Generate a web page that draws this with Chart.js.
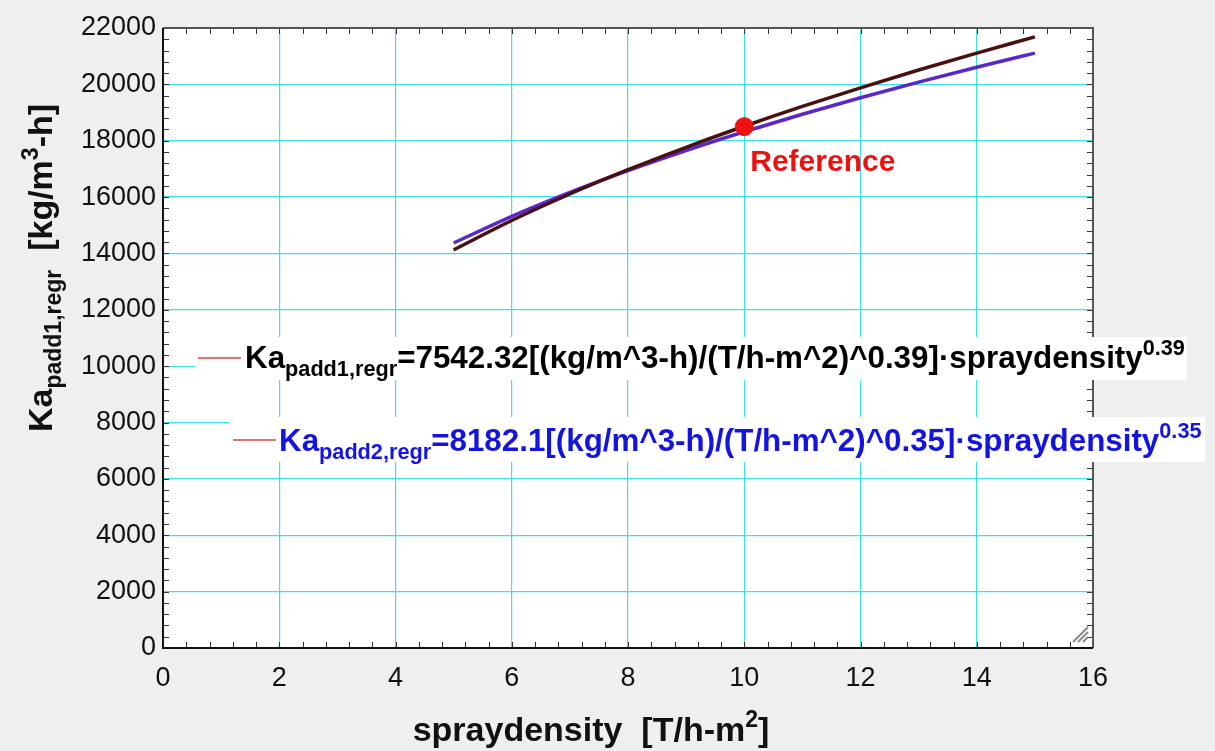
<!DOCTYPE html>
<html><head><meta charset="utf-8">
<script src="https://cdn.jsdelivr.net/npm/chart.js@4/dist/chart.umd.min.js"></script>
<style>html,body{margin:0;padding:0;background:#efefef;} canvas{display:block;}</style>
</head><body>
<canvas id="c" width="1215" height="751"></canvas>
<script>
// ---- data ----
const sprayDensity = [5, 6, 7, 8, 9, 10, 11, 12, 13, 14, 15];
const kaPadd1Regr  = [14129, 15170, 16110, 16971, 17768, 18514, 19216, 19878, 20508, 21109, 21687];
const kaPadd2Regr  = [14372, 15318, 16169, 16941, 17654, 18317, 18940, 19524, 20078, 20607, 21110];
const referenceX = [10];
const referenceY = [18500];
const xMin = 0, xMax = 16, xStep = 2, xMinor = 0.4;
const yMin = 0, yMax = 22000, yStep = 2000, yMinor = 400;
const seriesLabels = ['Ka padd1,regr', 'Ka padd2,regr', 'Reference'];

const FONT = '"Liberation Sans", Arial, sans-serif';

function toPoints(xs, ys) { return xs.map((x, i) => ({ x: x, y: ys[i] })); }

function richWidth(ctx, parts) {
  let w = 0;
  parts.forEach(p => { ctx.font = 'bold ' + p.size + 'px ' + FONT; w += ctx.measureText(p.t).width; });
  return w;
}
function drawRich(ctx, x, y, parts, color, align) {
  ctx.save();
  ctx.fillStyle = color;
  ctx.textBaseline = 'alphabetic';
  ctx.textAlign = 'left';
  let cx = x;
  if (align === 'center') cx = x - richWidth(ctx, parts) / 2;
  parts.forEach(p => {
    ctx.font = 'bold ' + p.size + 'px ' + FONT;
    ctx.fillText(p.t, cx, y + (p.dy || 0));
    cx += ctx.measureText(p.t).width;
  });
  ctx.restore();
  return cx;
}

const decorations = {
  id: 'decorations',
  beforeDraw(chart) {
    const { ctx, chartArea: a } = chart;
    ctx.save();
    ctx.fillStyle = '#efefef';
    ctx.fillRect(0, 0, chart.width, chart.height);
    ctx.fillStyle = '#ffffff';
    ctx.fillRect(a.left, a.top, a.right - a.left, a.bottom - a.top);
    ctx.restore();
  },
  afterDatasetsDraw(chart) {
    const { ctx, chartArea: a, scales } = chart;
    const xs = scales.x, ys = scales.y;
    ctx.save();
    // minor ticks
    ctx.strokeStyle = '#333';
    ctx.lineWidth = 1;
    ctx.beginPath();
    for (let v = xMin + xMinor; v < xMax - 1e-9; v += xMinor) {
      const px = Math.round(xs.getPixelForValue(v)) + 0.5;
      ctx.moveTo(px, a.bottom); ctx.lineTo(px, a.bottom - 6);
      ctx.moveTo(px, a.top); ctx.lineTo(px, a.top + 6);
    }
    for (let v = yMin + yMinor; v < yMax - 1e-9; v += yMinor) {
      const py = Math.round(ys.getPixelForValue(v)) + 0.5;
      ctx.moveTo(a.left, py); ctx.lineTo(a.left + 6, py);
      ctx.moveTo(a.right, py); ctx.lineTo(a.right - 6, py);
    }
    ctx.stroke();
    // frame
    ctx.lineWidth = 2;
    ctx.strokeStyle = '#555';
    ctx.beginPath();
    ctx.moveTo(a.left, a.top); ctx.lineTo(a.right, a.top); ctx.lineTo(a.right, a.bottom);
    ctx.stroke();
    ctx.strokeStyle = '#111';
    ctx.beginPath();
    ctx.moveTo(a.left, a.top); ctx.lineTo(a.left, a.bottom); ctx.lineTo(a.right, a.bottom);
    ctx.stroke();
    // resize grip
    ctx.strokeStyle = '#8a8a8a';
    ctx.lineWidth = 2;
    ctx.beginPath();
    ctx.moveTo(a.right - 20, a.bottom - 6); ctx.lineTo(a.right - 5, a.bottom - 21);
    ctx.moveTo(a.right - 15, a.bottom - 6); ctx.lineTo(a.right - 5, a.bottom - 16);
    ctx.moveTo(a.right - 10, a.bottom - 6); ctx.lineTo(a.right - 5, a.bottom - 11);
    ctx.stroke();

    // legend entries (with sub/superscripts)
    const big = 31.35, small = 21.7;
    const entries = [
      { box: [195, 337, 992, 43], line: [198, 241, 358], x: 245, y: 368, color: '#000000',
        parts: [{ t: 'Ka', size: big }, { t: 'padd1,regr', size: small, dy: 8 },
                { t: '=7542.32[(kg/m^3-h)/(T/h-m^2)^0.39]·spraydensity', size: big },
                { t: '0.39', size: small, dy: -13 }] },
      { box: [230, 417, 975, 45], line: [233, 276, 440], x: 279, y: 451, color: '#1414e0',
        parts: [{ t: 'Ka', size: big }, { t: 'padd2,regr', size: small, dy: 8 },
                { t: '=8182.1[(kg/m^3-h)/(T/h-m^2)^0.35]·spraydensity', size: big },
                { t: '0.35', size: small, dy: -13 }] }
    ];
    entries.forEach(e => {
      ctx.fillStyle = '#ffffff';
      ctx.fillRect(e.box[0], e.box[1], e.box[2], e.box[3]);
      ctx.strokeStyle = '#d04848';
      ctx.lineWidth = 1.5;
      ctx.beginPath(); ctx.moveTo(e.line[0], e.line[2]); ctx.lineTo(e.line[1], e.line[2]); ctx.stroke();
      drawRich(ctx, e.x, e.y, e.parts, e.color, 'left');
    });

    // Reference label next to the point
    const rx = xs.getPixelForValue(referenceX[0]), ry = ys.getPixelForValue(referenceY[0]);
    ctx.fillStyle = '#ee1111';
    ctx.font = 'bold 30px ' + FONT;
    ctx.textBaseline = 'alphabetic';
    ctx.fillText('Reference', rx + 6, ry + 44);

    // axis titles
    drawRich(ctx, 591, 741, [{ t: 'spraydensity  [T/h-m', size: 34 }, { t: '2', size: 23, dy: -14 }, { t: ']', size: 34 }], '#111', 'center');
    ctx.save();
    ctx.translate(52, 268);
    ctx.rotate(-Math.PI / 2);
    drawRich(ctx, 0, 0, [{ t: 'Ka', size: 34 }, { t: 'padd1,regr', size: 23, dy: 9 }, { t: '  [kg/m', size: 34 },
      { t: '3', size: 23, dy: -14 }, { t: '-h]', size: 34 }], '#111', 'center');
    ctx.restore();
    ctx.restore();
  }
};

new Chart(document.getElementById('c'), {
  type: 'scatter',
  data: {
    datasets: [
      { label: seriesLabels[0], data: toPoints(sprayDensity, kaPadd1Regr), showLine: true,
        borderColor: '#4a0f0f', borderWidth: 3.5, pointRadius: 0, cubicInterpolationMode: 'monotone', order: 2 },
      { label: seriesLabels[1], data: toPoints(sprayDensity, kaPadd2Regr), showLine: true,
        borderColor: '#5a28c8', borderWidth: 3.5, pointRadius: 0, cubicInterpolationMode: 'monotone', order: 3 },
      { label: seriesLabels[2], data: toPoints(referenceX, referenceY), showLine: false,
        backgroundColor: '#ee1111', borderColor: '#ee1111', pointRadius: 9, order: 1 }
    ]
  },
  options: {
    responsive: false,
    animation: false,
    devicePixelRatio: 1,
    layout: { padding: { top: 28, right: 122, left: 0, bottom: 0 } },
    plugins: { legend: { display: false }, tooltip: { enabled: false } },
    scales: {
      x: {
        type: 'linear', min: xMin, max: xMax,
        ticks: { stepSize: xStep, padding: 14, color: '#111', font: { family: FONT, size: 27 }, callback: v => String(v) },
        grid: { color: '#3fe0e0', lineWidth: 1.2, drawTicks: false },
        border: { display: false },
        afterFit(s) { s.height = 103; }
      },
      y: {
        type: 'linear', min: yMin, max: yMax,
        ticks: { stepSize: yStep, padding: 7, color: '#111', font: { family: FONT, size: 27 }, callback: v => String(v) },
        grid: { color: '#3fe0e0', lineWidth: 1.2, drawTicks: false },
        border: { display: false },
        afterFit(s) { s.width = 163; }
      }
    }
  },
  plugins: [decorations]
});
</script>
</body></html>
